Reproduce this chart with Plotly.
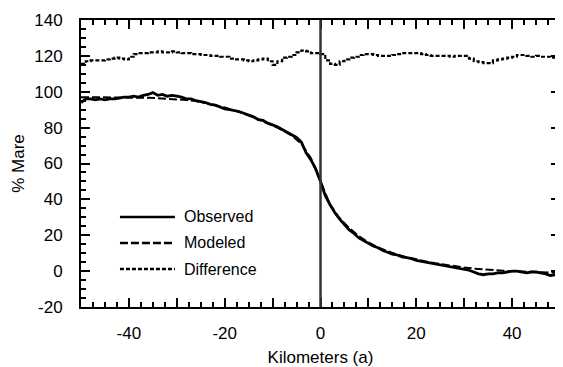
import plotly.graph_objects as go

# ---- data ----
km = list(range(-50, 51))

observed = [94, 96, 96, 95.5, 96, 95.5, 96, 96, 96.5, 97,
            97, 97.5, 97, 98, 98.5, 99.5, 98, 98.5, 97.5, 98,
            97.5, 97, 96, 96, 95, 94.5, 94, 93, 92.5, 91.5,
            90.5, 90, 89.5, 89, 88, 87, 86, 84.5, 84, 82.5,
            81.5, 80.5, 79, 77.5, 76, 74.5, 72, 66, 62, 57,
            50, 42, 37, 32.5, 29, 26, 23, 21, 18.5, 17,
            15.5, 14, 13, 11.5, 10.5, 9.5, 9, 8, 7.5, 7,
            6, 5.5, 5, 4.5, 4, 3.5, 3, 2.5, 2, 1.5,
            1, 0.5, -0.5, -1.5, -2, -1.5, -1.5, -1, -1, -0.5,
            0, 0, -0.5, -1, -0.5, -0.5, -1, -1.5, -2.5, -2,
            -3]

km_model = list(range(-50, 51, 2))
modeled = [97, 97, 97, 97, 97, 97, 96.8, 96.6, 96.4, 96.2,
           96, 95.4, 94.8, 93.8, 92.6, 91.2, 89.6, 87.8, 85.8, 83.6,
           81.2, 78.6, 75.6, 71, 63, 50, 37, 29.5, 24, 19.5,
           16, 13.2, 11, 9.2, 7.8, 6.5, 5.4, 4.4, 3.5, 2.7,
           2, 1.4, 0.9, 0.5, 0.2, 0, -0.2, -0.4, -0.6, -0.8,
           -1]

difference = [115.5, 117, 117.5, 117.5, 117.5, 118, 118.5, 119, 118.5, 118,
              119.5, 121, 121.5, 121.5, 122, 122, 122.5, 122, 122, 122.5,
              122, 121.5, 121.5, 121, 121, 120.5, 120.5, 120, 120, 119.5,
              119.5, 118.5, 118, 118, 117.5, 117, 117.5, 118, 118.5, 117,
              115, 117, 119, 119.5, 120.5, 122, 123, 122.5, 121.5, 121.5,
              121, 117.5, 115.5, 115, 117, 118, 119, 119.5, 120.5, 121,
              121, 120.5, 120, 120, 120, 120.5, 121, 121.5, 121.5, 121.5,
              121.5, 121, 120.5, 120, 120, 120, 120, 119.5, 120, 120,
              120, 118.5, 117, 116.5, 116, 116, 117.5, 118, 118.5, 119,
              119.5, 120.5, 120.5, 120, 119.5, 120, 119.5, 119.5, 119, 118.5,
              118.5]

series_names = ["Observed", "Modeled", "Difference"]
reference_km = [0]

x_tickvals = list(range(-50, 51, 10))
x_ticktext = ["", "-40", "", "-20", "", "0", "", "20", "", "40", ""]
y_tickvals = list(range(-20, 141, 20))
y_ticktext = [str(v) for v in y_tickvals]

FONT = "Liberation Sans, Arial, sans-serif"

fig = go.Figure()
fig.add_trace(go.Scatter(x=km, y=difference, mode="lines", name=series_names[2],
                         line=dict(color="black", width=2.2, dash="4px,2px", shape="hv"),
                         showlegend=False))
fig.add_trace(go.Scatter(x=km_model, y=modeled, mode="lines", name=series_names[1],
                         line=dict(color="black", width=2, dash="8px,3px"),
                         showlegend=False))
fig.add_trace(go.Scatter(x=km, y=observed, mode="lines", name=series_names[0],
                         line=dict(color="black", width=2.8),
                         showlegend=False))

# vertical reference line
for xr in reference_km:
    fig.add_shape(type="line", xref="x", yref="paper", x0=xr, x1=xr, y0=0, y1=1,
                  line=dict(color="#333333", width=2.5))

# manual legend (line samples + labels)
leg_rows = [0.3136, 0.223, 0.1324]
leg_dash = ["solid", "8px,3px", "4px,2px"]
for name, yy, dsh in zip(series_names, leg_rows, leg_dash):
    fig.add_shape(type="line", xref="paper", yref="paper", x0=0.0813, x1=0.196,
                  y0=yy, y1=yy, line=dict(color="black", width=2.5, dash=dsh))
    fig.add_annotation(xref="paper", yref="paper", x=0.2106, y=yy, text=name,
                       showarrow=False, xanchor="left", yanchor="middle",
                       font=dict(family=FONT, size=16, color="black"))

axis_common = dict(showline=True, linecolor="black", linewidth=2, mirror="ticks",
                   ticks="inside", ticklen=9, tickwidth=2, tickcolor="black",
                   showgrid=False, zeroline=False, automargin=False,
                   tickfont=dict(family=FONT, size=17, color="black"))

fig.update_xaxes(range=[-50, 50], tickmode="array", tickvals=x_tickvals, ticktext=x_ticktext,
                 minor=dict(dtick=2.5, ticks="inside", ticklen=5, tickwidth=2, tickcolor="black"),
                 ticklabelstandoff=10,
                 title=dict(text="Kilometers (a)", font=dict(family=FONT, size=17, color="black"),
                            standoff=9),
                 **axis_common)
fig.update_yaxes(range=[-20, 140], tickmode="array", tickvals=y_tickvals, ticktext=y_ticktext,
                 minor=dict(dtick=5, ticks="inside", ticklen=5, tickwidth=2, tickcolor="black"),
                 ticklabelstandoff=13,
                 title=dict(text="% Mare", font=dict(family=FONT, size=17, color="black"),
                            standoff=5),
                 **axis_common)

# the page body adds an 8px offset, so the figure is sized to the remaining area
fig.update_layout(width=555, height=359, margin=dict(l=73, r=3, t=12, b=60),
                  plot_bgcolor="white", paper_bgcolor="white",
                  font=dict(family=FONT, size=17, color="black"))

fig.write_html("out.html")
